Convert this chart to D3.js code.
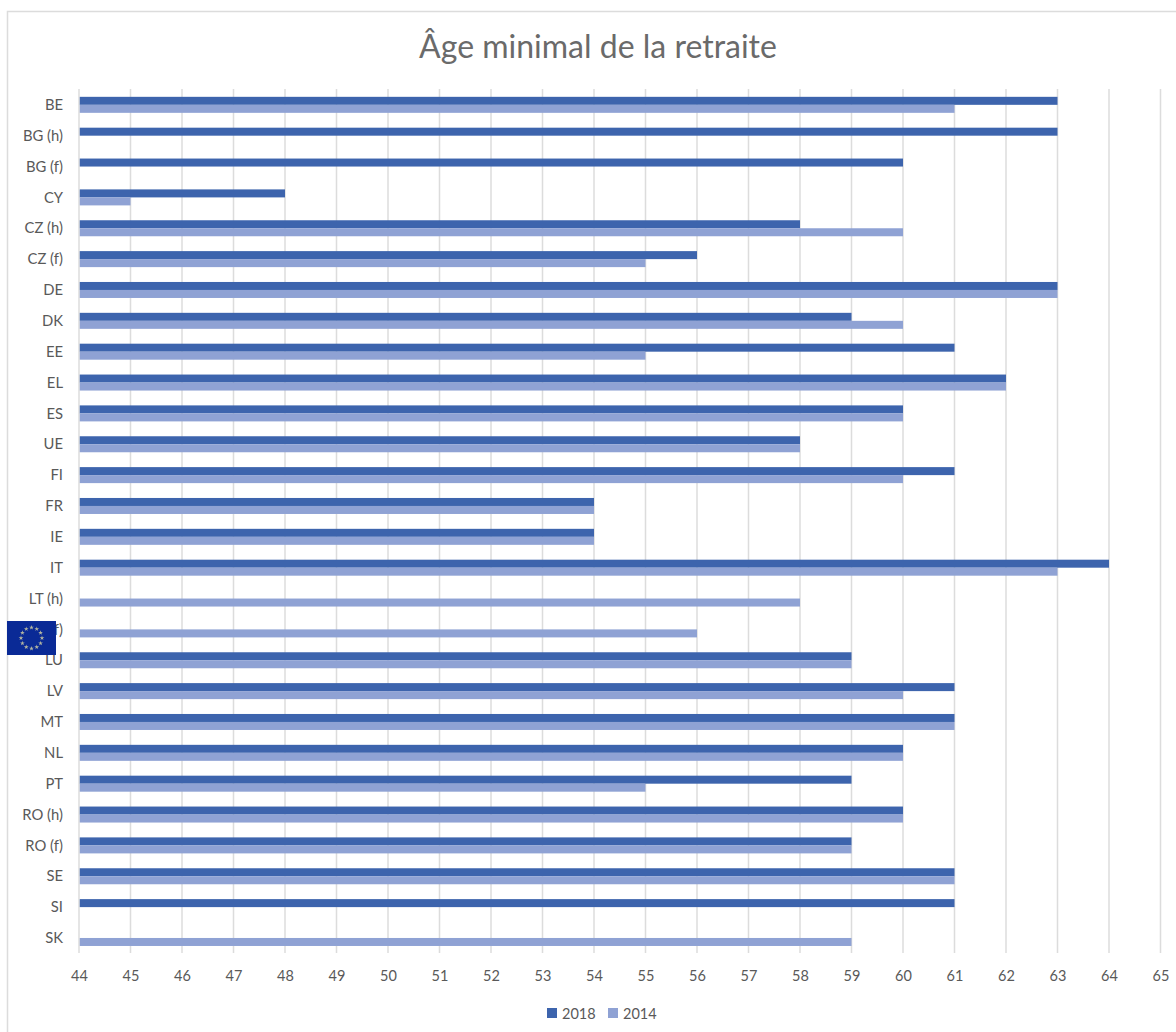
<!DOCTYPE html>
<html>
<head>
<meta charset="utf-8">
<script src="https://cdn.jsdelivr.net/npm/d3@7"></script>
<style>
  html, body { margin: 0; padding: 0; background: #fff; overflow: hidden; }
  text { font-family: Lato, "Open Sans", sans-serif; fill: #595959; }
  .axis path, .axis line { display: none; }
</style>
</head>
<body>
<svg id="chart" width="1176" height="1032"></svg>
<script>
var categories = ['BE', 'BG (h)', 'BG (f)', 'CY', 'CZ (h)', 'CZ (f)', 'DE', 'DK', 'EE', 'EL', 'ES', 'UE', 'FI', 'FR', 'IE', 'IT',
    'LT (h)', 'LT (f)', 'LU', 'LV', 'MT', 'NL', 'PT', 'RO (h)', 'RO (f)', 'SE', 'SI', 'SK'];
var values2018 = [63, 63, 60, 48, 58, 56, 63, 59, 61, 62, 60, 58, 61, 54, 54, 64, null, null, 59, 61, 61, 60, 59, 60, 59, 61, 61, null];
var values2014 = [61, null, null, 45, 60, 55, 63, 60, 55, 62, 60, 58, 60, 54, 54, 63, 58, 56, 59, 60, 61, 60, 55, 60, 59, 61, null, 59];
var xTicks = d3.range(44, 66);
var seriesNames = ['2018', '2014'];
var seriesColors = ['#3d64ad', '#8fa2d4'];

var svg = d3.select('#chart');

// chart frame, runs off the right and bottom of the screenshot
svg.append('rect')
    .attr('x', 7.5).attr('y', 11.5).attr('width', 1300).attr('height', 1300)
    .attr('fill', '#fff').attr('stroke', '#dcdcdc').attr('stroke-width', 1.5);

var x = d3.scaleLinear().domain([44, 65]).range([79, 1160.5]);
var y = d3.scaleBand().domain(categories).range([89.4, 953.4]);
var barHeight = 8;

svg.append('text')
    .attr('x', 598).attr('y', 58)
    .attr('text-anchor', 'middle')
    .style('font-size', '32px')
    .style('font-weight', 400)
    .style('fill', '#6a6a6a')
    .text('Âge minimal de la retraite');

svg.append('g').selectAll('line')
    .data(xTicks)
    .enter().append('line')
    .attr('x1', function(d) { return x(d); })
    .attr('x2', function(d) { return x(d); })
    .attr('y1', 89).attr('y2', 953)
    .attr('stroke', '#dcdcdc').attr('stroke-width', 1.5);

// bars start just right of the 44 gridline
var barStart = x(44) + 0.75;
[values2018, values2014].forEach(function(values, s) {
    svg.append('g').selectAll('rect')
        .data(values.map(function(v, i) { return { cat: categories[i], value: v }; })
            .filter(function(d) { return d.value !== null; }))
        .enter().append('rect')
        .attr('x', barStart)
        .attr('y', function(d) { return y(d.cat) + y.bandwidth() / 2 - barHeight + s * barHeight; })
        .attr('width', function(d) { return x(d.value) - barStart; })
        .attr('height', barHeight)
        .attr('fill', seriesColors[s]);
});

var xAxis = svg.append('g')
    .attr('class', 'axis')
    .attr('transform', 'translate(0,953)')
    .call(d3.axisBottom(x).tickValues(xTicks).tickFormat(d3.format('d')).tickSize(0).tickPadding(18));
xAxis.selectAll('text').style('font-size', '14.5px');

var yAxis = svg.append('g')
    .attr('class', 'axis')
    .attr('transform', 'translate(79,0.4)')
    .call(d3.axisLeft(y).tickSize(0).tickPadding(16));
yAxis.selectAll('text').style('font-size', '14.8px');

// legend
var legendX = [547, 608];
seriesNames.forEach(function(name, i) {
    svg.append('rect')
        .attr('x', legendX[i]).attr('y', 1008)
        .attr('width', 10).attr('height', 10)
        .attr('fill', seriesColors[i]);
    svg.append('text')
        .attr('x', legendX[i] + 15).attr('y', 1019)
        .style('font-size', '14.5px')
        .text(name);
});

// EU flag pasted over the LT (f) label
var flag = svg.append('g').attr('transform', 'translate(31.5,638)');
flag.append('rect')
    .attr('x', -24.5).attr('y', -17)
    .attr('width', 49).attr('height', 34)
    .attr('fill', '#0a2a96');
var star = d3.symbol().type(d3.symbolStar).size(7);
flag.selectAll('path')
    .data(d3.range(12))
    .enter().append('path')
    .attr('d', star)
    .attr('fill', '#b4b6a0')
    .attr('transform', function(d) {
        var a = d / 12 * 2 * Math.PI;
        return 'translate(' + (10.5 * Math.sin(a)) + ',' + (-10.5 * Math.cos(a)) + ')';
    });
</script>
</body>
</html>
